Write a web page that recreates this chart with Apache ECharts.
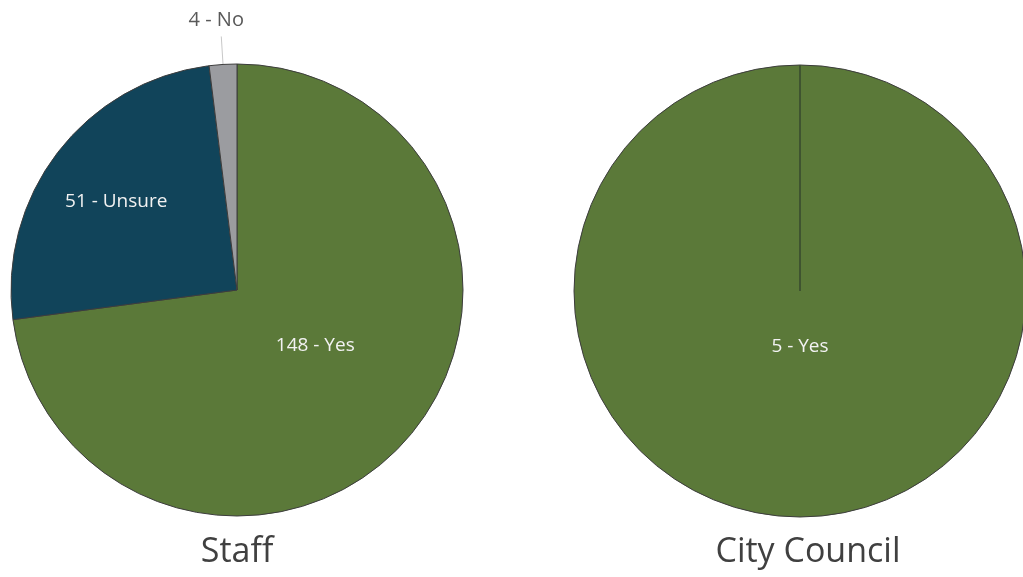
<!DOCTYPE html>
<html>
<head>
<meta charset="utf-8">
<script src="https://cdn.jsdelivr.net/npm/echarts@6/dist/echarts.min.js"></script>
<style>
  html, body { margin: 0; padding: 0; background: #ffffff; }
  #chart { width: 1023px; height: 577px; }
</style>
</head>
<body>
<div id="chart"></div>
<script>
// Survey answers per group
const answers = ['Yes', 'Unsure', 'No'];
const staffCounts = [148, 51, 4];
const councilCounts = [5, 0, 0];
const groupNames = ['Staff', 'City Council'];

const sliceColors = {
  Yes: '#5b7939',
  Unsure: '#11445a',
  No: '#9b9ca0'
};

// Small nudges for the in-slice labels
const staffLabelOffset = { Yes: [-9, -21], Unsure: [-29, -17] };
const councilLabelOffset = { Yes: [0, -60] };

const FONT = '"Open Sans", "Noto Sans", sans-serif';

function buildData(counts, offsets) {
  return answers.map((name, i) => {
    const item = {
      name: name,
      value: counts[i],
      itemStyle: { color: sliceColors[name] }
    };
    if (counts[i] === 0) {
      // empty answers still leave their edge on the circle
      item.itemStyle.borderColor = '#3e5230';
      item.label = { show: false };
      item.labelLine = { show: false };
    } else if (name === 'No') {
      item.label = {
        position: 'outside',
        color: '#595959',
        fontSize: 20
      };
      item.labelLine = { show: true, length: 28, length2: 0, lineStyle: { color: '#c8c8c8', width: 1 } };
    } else if (offsets && offsets[name]) {
      item.label = { offset: offsets[name] };
    }
    return item;
  });
}

function pieSeries(center, counts, offsets) {
  return {
    type: 'pie',
    center: center,
    radius: 226,
    startAngle: 90,
    clockwise: true,
    avoidLabelOverlap: false,
    silent: true,
    animation: false,
    itemStyle: { borderColor: '#3d3d3d', borderWidth: 1 },
    label: {
      show: true,
      position: 'inside',
      formatter: p => p.value + ' - ' + p.name,
      color: '#f2f2f2',
      fontSize: 19,
      fontFamily: FONT
    },
    labelLine: { show: false },
    labelLayout: function (params) {
      if (params.dataIndex === 2 && params.labelLinePoints) {
        return { align: 'center', verticalAlign: 'bottom', dy: -6 };
      }
      return {};
    },
    emphasis: { disabled: true },
    data: buildData(counts, offsets)
  };
}

const titleStyle = { fontFamily: FONT, fontSize: 34, fontWeight: 'normal', color: '#404040' };

const chart = echarts.init(document.getElementById('chart'), null, { renderer: 'canvas' });
chart.setOption({
  backgroundColor: '#ffffff',
  animation: false,
  title: [
    { text: groupNames[0], left: 237, top: 535, padding: 0, textAlign: 'center', textStyle: titleStyle },
    { text: groupNames[1], left: 808, top: 535, padding: 0, textAlign: 'center', textStyle: titleStyle }
  ],
  series: [
    pieSeries([237, 290], staffCounts, staffLabelOffset),
    pieSeries([800, 291], councilCounts, councilLabelOffset)
  ]
});
</script>
</body>
</html>
